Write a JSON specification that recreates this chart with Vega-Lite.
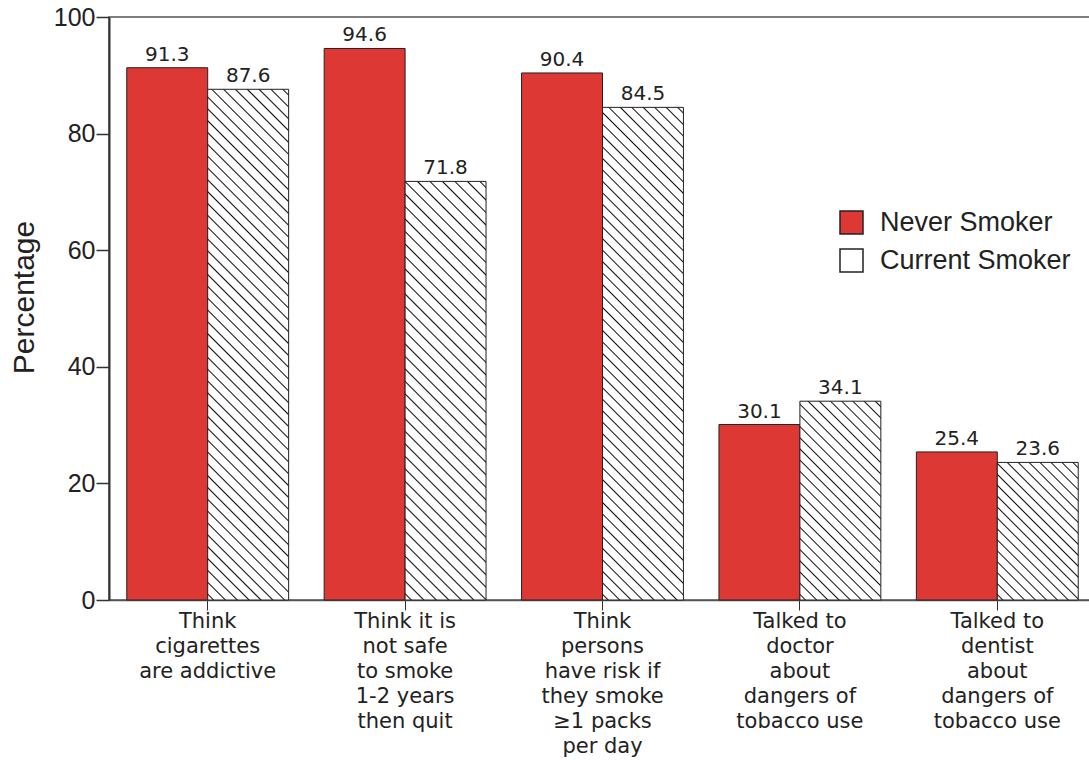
{"$schema":"https://vega.github.io/schema/vega-lite/v6.json","width":987,"height":583,"autosize":"none","padding":{"left":109,"top":17,"right":0,"bottom":160},"background":"white",
"config":{"view":{"stroke":"#555","strokeWidth":1.5},"axis":{"grid":false}},
"data":{"values":[
{"q":"Think|cigarettes|are addictive","g":"Never Smoker","v":91.3},
{"q":"Think|cigarettes|are addictive","g":"Current Smoker","v":87.6},
{"q":"Think it is|not safe|to smoke|1-2 years|then quit","g":"Never Smoker","v":94.6},
{"q":"Think it is|not safe|to smoke|1-2 years|then quit","g":"Current Smoker","v":71.8},
{"q":"Think|persons|have risk if|they smoke|≥1 packs|per day","g":"Never Smoker","v":90.4},
{"q":"Think|persons|have risk if|they smoke|≥1 packs|per day","g":"Current Smoker","v":84.5},
{"q":"Talked to|doctor|about|dangers of|tobacco use","g":"Never Smoker","v":30.1},
{"q":"Talked to|doctor|about|dangers of|tobacco use","g":"Current Smoker","v":34.1},
{"q":"Talked to|dentist|about|dangers of|tobacco use","g":"Never Smoker","v":25.4},
{"q":"Talked to|dentist|about|dangers of|tobacco use","g":"Current Smoker","v":23.6}]},
"encoding":{
"x":{"field":"q","type":"nominal","sort":null,"scale":{"paddingInner":0.18,"paddingOuter":0.09},"axis":{"title":null,"labelAngle":0,"labelExpr":"split(datum.label, '|')","labelFont":"DejaVu Sans","labelFontSize":21,"labelLineHeight":25,"labelColor":"#222","labelPadding":0,"labelLimit":400,"labelBaseline":"top","tickSize":10,"tickColor":"#333","domainColor":"#555","domainWidth":1.5}},
"xOffset":{"field":"g","type":"nominal","sort":["Never Smoker","Current Smoker"]},
"y":{"field":"v","type":"quantitative","scale":{"domain":[0,100]},"axis":{"title":"Percentage","values":[0,20,40,60,80,100],"labelFont":"Liberation Sans","labelFontSize":25,"labelColor":"#222","labelPadding":1,"tickSize":13,"tickColor":"#333","tickWidth":1.5,"domainColor":"#333","domainWidth":2,"titleFont":"Liberation Sans","titleFontSize":30,"titleFontWeight":"normal","titleColor":"#222","titleX":-76,"titleY":280,"titleBaseline":"alphabetic","titleAlign":"center","titleAngle":270}}},
"layer":[
{"mark":{"type":"bar","stroke":"#222","strokeWidth":1},
"encoding":{"fill":{"condition":[
{"test":"datum.g === 'Current Smoker' && datum.v === 87.6","value":{"gradient":"linear","x1":0,"y1":1,"x2":0.1791,"y2":-0.1302,"stops":[
{"offset":0.0075,"color":"#fff"},{"offset":0.01,"color":"#111"},{"offset":0.0125,"color":"#fff"},
{"offset":0.0275,"color":"#fff"},{"offset":0.03,"color":"#111"},{"offset":0.0325,"color":"#fff"},
{"offset":0.0475,"color":"#fff"},{"offset":0.05,"color":"#111"},{"offset":0.0525,"color":"#fff"},
{"offset":0.0675,"color":"#fff"},{"offset":0.07,"color":"#111"},{"offset":0.0725,"color":"#fff"},
{"offset":0.0875,"color":"#fff"},{"offset":0.09,"color":"#111"},{"offset":0.0925,"color":"#fff"},
{"offset":0.1075,"color":"#fff"},{"offset":0.11,"color":"#111"},{"offset":0.1125,"color":"#fff"},
{"offset":0.1275,"color":"#fff"},{"offset":0.13,"color":"#111"},{"offset":0.1325,"color":"#fff"},
{"offset":0.1475,"color":"#fff"},{"offset":0.15,"color":"#111"},{"offset":0.1525,"color":"#fff"},
{"offset":0.1675,"color":"#fff"},{"offset":0.17,"color":"#111"},{"offset":0.1725,"color":"#fff"},
{"offset":0.1875,"color":"#fff"},{"offset":0.19,"color":"#111"},{"offset":0.1925,"color":"#fff"},
{"offset":0.2075,"color":"#fff"},{"offset":0.21,"color":"#111"},{"offset":0.2125,"color":"#fff"},
{"offset":0.2275,"color":"#fff"},{"offset":0.23,"color":"#111"},{"offset":0.2325,"color":"#fff"},
{"offset":0.2475,"color":"#fff"},{"offset":0.25,"color":"#111"},{"offset":0.2525,"color":"#fff"},
{"offset":0.2675,"color":"#fff"},{"offset":0.27,"color":"#111"},{"offset":0.2725,"color":"#fff"},
{"offset":0.2875,"color":"#fff"},{"offset":0.29,"color":"#111"},{"offset":0.2925,"color":"#fff"},
{"offset":0.3075,"color":"#fff"},{"offset":0.31,"color":"#111"},{"offset":0.3125,"color":"#fff"},
{"offset":0.3275,"color":"#fff"},{"offset":0.33,"color":"#111"},{"offset":0.3325,"color":"#fff"},
{"offset":0.3475,"color":"#fff"},{"offset":0.35,"color":"#111"},{"offset":0.3525,"color":"#fff"},
{"offset":0.3675,"color":"#fff"},{"offset":0.37,"color":"#111"},{"offset":0.3725,"color":"#fff"},
{"offset":0.3875,"color":"#fff"},{"offset":0.39,"color":"#111"},{"offset":0.3925,"color":"#fff"},
{"offset":0.4075,"color":"#fff"},{"offset":0.41,"color":"#111"},{"offset":0.4125,"color":"#fff"},
{"offset":0.4275,"color":"#fff"},{"offset":0.43,"color":"#111"},{"offset":0.4325,"color":"#fff"},
{"offset":0.4475,"color":"#fff"},{"offset":0.45,"color":"#111"},{"offset":0.4525,"color":"#fff"},
{"offset":0.4675,"color":"#fff"},{"offset":0.47,"color":"#111"},{"offset":0.4725,"color":"#fff"},
{"offset":0.4875,"color":"#fff"},{"offset":0.49,"color":"#111"},{"offset":0.4925,"color":"#fff"},
{"offset":0.5075,"color":"#fff"},{"offset":0.51,"color":"#111"},{"offset":0.5125,"color":"#fff"},
{"offset":0.5275,"color":"#fff"},{"offset":0.53,"color":"#111"},{"offset":0.5325,"color":"#fff"},
{"offset":0.5475,"color":"#fff"},{"offset":0.55,"color":"#111"},{"offset":0.5525,"color":"#fff"},
{"offset":0.5675,"color":"#fff"},{"offset":0.57,"color":"#111"},{"offset":0.5725,"color":"#fff"},
{"offset":0.5875,"color":"#fff"},{"offset":0.59,"color":"#111"},{"offset":0.5925,"color":"#fff"},
{"offset":0.6075,"color":"#fff"},{"offset":0.61,"color":"#111"},{"offset":0.6125,"color":"#fff"},
{"offset":0.6275,"color":"#fff"},{"offset":0.63,"color":"#111"},{"offset":0.6325,"color":"#fff"},
{"offset":0.6475,"color":"#fff"},{"offset":0.65,"color":"#111"},{"offset":0.6525,"color":"#fff"},
{"offset":0.6675,"color":"#fff"},{"offset":0.67,"color":"#111"},{"offset":0.6725,"color":"#fff"},
{"offset":0.6875,"color":"#fff"},{"offset":0.69,"color":"#111"},{"offset":0.6925,"color":"#fff"},
{"offset":0.7075,"color":"#fff"},{"offset":0.71,"color":"#111"},{"offset":0.7125,"color":"#fff"},
{"offset":0.7275,"color":"#fff"},{"offset":0.73,"color":"#111"},{"offset":0.7325,"color":"#fff"},
{"offset":0.7475,"color":"#fff"},{"offset":0.75,"color":"#111"},{"offset":0.7525,"color":"#fff"},
{"offset":0.7675,"color":"#fff"},{"offset":0.77,"color":"#111"},{"offset":0.7725,"color":"#fff"},
{"offset":0.7875,"color":"#fff"},{"offset":0.79,"color":"#111"},{"offset":0.7925,"color":"#fff"},
{"offset":0.8075,"color":"#fff"},{"offset":0.81,"color":"#111"},{"offset":0.8125,"color":"#fff"},
{"offset":0.8275,"color":"#fff"},{"offset":0.83,"color":"#111"},{"offset":0.8325,"color":"#fff"},
{"offset":0.8475,"color":"#fff"},{"offset":0.85,"color":"#111"},{"offset":0.8525,"color":"#fff"},
{"offset":0.8675,"color":"#fff"},{"offset":0.87,"color":"#111"},{"offset":0.8725,"color":"#fff"},
{"offset":0.8875,"color":"#fff"},{"offset":0.89,"color":"#111"},{"offset":0.8925,"color":"#fff"},
{"offset":0.9075,"color":"#fff"},{"offset":0.91,"color":"#111"},{"offset":0.9125,"color":"#fff"},
{"offset":0.9275,"color":"#fff"},{"offset":0.93,"color":"#111"},{"offset":0.9325,"color":"#fff"},
{"offset":0.9475,"color":"#fff"},{"offset":0.95,"color":"#111"},{"offset":0.9525,"color":"#fff"},
{"offset":0.9675,"color":"#fff"},{"offset":0.97,"color":"#111"},{"offset":0.9725,"color":"#fff"},
{"offset":0.9875,"color":"#fff"},{"offset":0.99,"color":"#111"},{"offset":0.9925,"color":"#fff"}]}},
{"test":"datum.g === 'Current Smoker' && datum.v === 71.8","value":{"gradient":"linear","x1":0,"y1":1,"x2":0.2225,"y2":-0.1505,"stops":[
{"offset":0.0095,"color":"#fff"},{"offset":0.0125,"color":"#111"},{"offset":0.0155,"color":"#fff"},
{"offset":0.0345,"color":"#fff"},{"offset":0.0375,"color":"#111"},{"offset":0.0405,"color":"#fff"},
{"offset":0.0595,"color":"#fff"},{"offset":0.0625,"color":"#111"},{"offset":0.0655,"color":"#fff"},
{"offset":0.0845,"color":"#fff"},{"offset":0.0875,"color":"#111"},{"offset":0.0905,"color":"#fff"},
{"offset":0.1095,"color":"#fff"},{"offset":0.1125,"color":"#111"},{"offset":0.1155,"color":"#fff"},
{"offset":0.1345,"color":"#fff"},{"offset":0.1375,"color":"#111"},{"offset":0.1405,"color":"#fff"},
{"offset":0.1595,"color":"#fff"},{"offset":0.1625,"color":"#111"},{"offset":0.1655,"color":"#fff"},
{"offset":0.1845,"color":"#fff"},{"offset":0.1875,"color":"#111"},{"offset":0.1905,"color":"#fff"},
{"offset":0.2095,"color":"#fff"},{"offset":0.2125,"color":"#111"},{"offset":0.2155,"color":"#fff"},
{"offset":0.2345,"color":"#fff"},{"offset":0.2375,"color":"#111"},{"offset":0.2405,"color":"#fff"},
{"offset":0.2595,"color":"#fff"},{"offset":0.2625,"color":"#111"},{"offset":0.2655,"color":"#fff"},
{"offset":0.2845,"color":"#fff"},{"offset":0.2875,"color":"#111"},{"offset":0.2905,"color":"#fff"},
{"offset":0.3095,"color":"#fff"},{"offset":0.3125,"color":"#111"},{"offset":0.3155,"color":"#fff"},
{"offset":0.3345,"color":"#fff"},{"offset":0.3375,"color":"#111"},{"offset":0.3405,"color":"#fff"},
{"offset":0.3595,"color":"#fff"},{"offset":0.3625,"color":"#111"},{"offset":0.3655,"color":"#fff"},
{"offset":0.3845,"color":"#fff"},{"offset":0.3875,"color":"#111"},{"offset":0.3905,"color":"#fff"},
{"offset":0.4095,"color":"#fff"},{"offset":0.4125,"color":"#111"},{"offset":0.4155,"color":"#fff"},
{"offset":0.4345,"color":"#fff"},{"offset":0.4375,"color":"#111"},{"offset":0.4405,"color":"#fff"},
{"offset":0.4595,"color":"#fff"},{"offset":0.4625,"color":"#111"},{"offset":0.4655,"color":"#fff"},
{"offset":0.4845,"color":"#fff"},{"offset":0.4875,"color":"#111"},{"offset":0.4905,"color":"#fff"},
{"offset":0.5095,"color":"#fff"},{"offset":0.5125,"color":"#111"},{"offset":0.5155,"color":"#fff"},
{"offset":0.5345,"color":"#fff"},{"offset":0.5375,"color":"#111"},{"offset":0.5405,"color":"#fff"},
{"offset":0.5595,"color":"#fff"},{"offset":0.5625,"color":"#111"},{"offset":0.5655,"color":"#fff"},
{"offset":0.5845,"color":"#fff"},{"offset":0.5875,"color":"#111"},{"offset":0.5905,"color":"#fff"},
{"offset":0.6095,"color":"#fff"},{"offset":0.6125,"color":"#111"},{"offset":0.6155,"color":"#fff"},
{"offset":0.6345,"color":"#fff"},{"offset":0.6375,"color":"#111"},{"offset":0.6405,"color":"#fff"},
{"offset":0.6595,"color":"#fff"},{"offset":0.6625,"color":"#111"},{"offset":0.6655,"color":"#fff"},
{"offset":0.6845,"color":"#fff"},{"offset":0.6875,"color":"#111"},{"offset":0.6905,"color":"#fff"},
{"offset":0.7095,"color":"#fff"},{"offset":0.7125,"color":"#111"},{"offset":0.7155,"color":"#fff"},
{"offset":0.7345,"color":"#fff"},{"offset":0.7375,"color":"#111"},{"offset":0.7405,"color":"#fff"},
{"offset":0.7595,"color":"#fff"},{"offset":0.7625,"color":"#111"},{"offset":0.7655,"color":"#fff"},
{"offset":0.7845,"color":"#fff"},{"offset":0.7875,"color":"#111"},{"offset":0.7905,"color":"#fff"},
{"offset":0.8095,"color":"#fff"},{"offset":0.8125,"color":"#111"},{"offset":0.8155,"color":"#fff"},
{"offset":0.8345,"color":"#fff"},{"offset":0.8375,"color":"#111"},{"offset":0.8405,"color":"#fff"},
{"offset":0.8595,"color":"#fff"},{"offset":0.8625,"color":"#111"},{"offset":0.8655,"color":"#fff"},
{"offset":0.8845,"color":"#fff"},{"offset":0.8875,"color":"#111"},{"offset":0.8905,"color":"#fff"},
{"offset":0.9095,"color":"#fff"},{"offset":0.9125,"color":"#111"},{"offset":0.9155,"color":"#fff"},
{"offset":0.9345,"color":"#fff"},{"offset":0.9375,"color":"#111"},{"offset":0.9405,"color":"#fff"},
{"offset":0.9595,"color":"#fff"},{"offset":0.9625,"color":"#111"},{"offset":0.9655,"color":"#fff"},
{"offset":0.9845,"color":"#fff"},{"offset":0.9875,"color":"#111"},{"offset":0.9905,"color":"#fff"}]}},
{"test":"datum.g === 'Current Smoker' && datum.v === 84.5","value":{"gradient":"linear","x1":0,"y1":1,"x2":0.1863,"y2":-0.1336,"stops":[
{"offset":0.0075,"color":"#fff"},{"offset":0.01,"color":"#111"},{"offset":0.0125,"color":"#fff"},
{"offset":0.0275,"color":"#fff"},{"offset":0.03,"color":"#111"},{"offset":0.0325,"color":"#fff"},
{"offset":0.0475,"color":"#fff"},{"offset":0.05,"color":"#111"},{"offset":0.0525,"color":"#fff"},
{"offset":0.0675,"color":"#fff"},{"offset":0.07,"color":"#111"},{"offset":0.0725,"color":"#fff"},
{"offset":0.0875,"color":"#fff"},{"offset":0.09,"color":"#111"},{"offset":0.0925,"color":"#fff"},
{"offset":0.1075,"color":"#fff"},{"offset":0.11,"color":"#111"},{"offset":0.1125,"color":"#fff"},
{"offset":0.1275,"color":"#fff"},{"offset":0.13,"color":"#111"},{"offset":0.1325,"color":"#fff"},
{"offset":0.1475,"color":"#fff"},{"offset":0.15,"color":"#111"},{"offset":0.1525,"color":"#fff"},
{"offset":0.1675,"color":"#fff"},{"offset":0.17,"color":"#111"},{"offset":0.1725,"color":"#fff"},
{"offset":0.1875,"color":"#fff"},{"offset":0.19,"color":"#111"},{"offset":0.1925,"color":"#fff"},
{"offset":0.2075,"color":"#fff"},{"offset":0.21,"color":"#111"},{"offset":0.2125,"color":"#fff"},
{"offset":0.2275,"color":"#fff"},{"offset":0.23,"color":"#111"},{"offset":0.2325,"color":"#fff"},
{"offset":0.2475,"color":"#fff"},{"offset":0.25,"color":"#111"},{"offset":0.2525,"color":"#fff"},
{"offset":0.2675,"color":"#fff"},{"offset":0.27,"color":"#111"},{"offset":0.2725,"color":"#fff"},
{"offset":0.2875,"color":"#fff"},{"offset":0.29,"color":"#111"},{"offset":0.2925,"color":"#fff"},
{"offset":0.3075,"color":"#fff"},{"offset":0.31,"color":"#111"},{"offset":0.3125,"color":"#fff"},
{"offset":0.3275,"color":"#fff"},{"offset":0.33,"color":"#111"},{"offset":0.3325,"color":"#fff"},
{"offset":0.3475,"color":"#fff"},{"offset":0.35,"color":"#111"},{"offset":0.3525,"color":"#fff"},
{"offset":0.3675,"color":"#fff"},{"offset":0.37,"color":"#111"},{"offset":0.3725,"color":"#fff"},
{"offset":0.3875,"color":"#fff"},{"offset":0.39,"color":"#111"},{"offset":0.3925,"color":"#fff"},
{"offset":0.4075,"color":"#fff"},{"offset":0.41,"color":"#111"},{"offset":0.4125,"color":"#fff"},
{"offset":0.4275,"color":"#fff"},{"offset":0.43,"color":"#111"},{"offset":0.4325,"color":"#fff"},
{"offset":0.4475,"color":"#fff"},{"offset":0.45,"color":"#111"},{"offset":0.4525,"color":"#fff"},
{"offset":0.4675,"color":"#fff"},{"offset":0.47,"color":"#111"},{"offset":0.4725,"color":"#fff"},
{"offset":0.4875,"color":"#fff"},{"offset":0.49,"color":"#111"},{"offset":0.4925,"color":"#fff"},
{"offset":0.5075,"color":"#fff"},{"offset":0.51,"color":"#111"},{"offset":0.5125,"color":"#fff"},
{"offset":0.5275,"color":"#fff"},{"offset":0.53,"color":"#111"},{"offset":0.5325,"color":"#fff"},
{"offset":0.5475,"color":"#fff"},{"offset":0.55,"color":"#111"},{"offset":0.5525,"color":"#fff"},
{"offset":0.5675,"color":"#fff"},{"offset":0.57,"color":"#111"},{"offset":0.5725,"color":"#fff"},
{"offset":0.5875,"color":"#fff"},{"offset":0.59,"color":"#111"},{"offset":0.5925,"color":"#fff"},
{"offset":0.6075,"color":"#fff"},{"offset":0.61,"color":"#111"},{"offset":0.6125,"color":"#fff"},
{"offset":0.6275,"color":"#fff"},{"offset":0.63,"color":"#111"},{"offset":0.6325,"color":"#fff"},
{"offset":0.6475,"color":"#fff"},{"offset":0.65,"color":"#111"},{"offset":0.6525,"color":"#fff"},
{"offset":0.6675,"color":"#fff"},{"offset":0.67,"color":"#111"},{"offset":0.6725,"color":"#fff"},
{"offset":0.6875,"color":"#fff"},{"offset":0.69,"color":"#111"},{"offset":0.6925,"color":"#fff"},
{"offset":0.7075,"color":"#fff"},{"offset":0.71,"color":"#111"},{"offset":0.7125,"color":"#fff"},
{"offset":0.7275,"color":"#fff"},{"offset":0.73,"color":"#111"},{"offset":0.7325,"color":"#fff"},
{"offset":0.7475,"color":"#fff"},{"offset":0.75,"color":"#111"},{"offset":0.7525,"color":"#fff"},
{"offset":0.7675,"color":"#fff"},{"offset":0.77,"color":"#111"},{"offset":0.7725,"color":"#fff"},
{"offset":0.7875,"color":"#fff"},{"offset":0.79,"color":"#111"},{"offset":0.7925,"color":"#fff"},
{"offset":0.8075,"color":"#fff"},{"offset":0.81,"color":"#111"},{"offset":0.8125,"color":"#fff"},
{"offset":0.8275,"color":"#fff"},{"offset":0.83,"color":"#111"},{"offset":0.8325,"color":"#fff"},
{"offset":0.8475,"color":"#fff"},{"offset":0.85,"color":"#111"},{"offset":0.8525,"color":"#fff"},
{"offset":0.8675,"color":"#fff"},{"offset":0.87,"color":"#111"},{"offset":0.8725,"color":"#fff"},
{"offset":0.8875,"color":"#fff"},{"offset":0.89,"color":"#111"},{"offset":0.8925,"color":"#fff"},
{"offset":0.9075,"color":"#fff"},{"offset":0.91,"color":"#111"},{"offset":0.9125,"color":"#fff"},
{"offset":0.9275,"color":"#fff"},{"offset":0.93,"color":"#111"},{"offset":0.9325,"color":"#fff"},
{"offset":0.9475,"color":"#fff"},{"offset":0.95,"color":"#111"},{"offset":0.9525,"color":"#fff"},
{"offset":0.9675,"color":"#fff"},{"offset":0.97,"color":"#111"},{"offset":0.9725,"color":"#fff"},
{"offset":0.9875,"color":"#fff"},{"offset":0.99,"color":"#111"},{"offset":0.9925,"color":"#fff"}]}},
{"test":"datum.g === 'Current Smoker' && datum.v === 34.1","value":{"gradient":"linear","x1":0,"y1":1,"x2":0.4915,"y2":-0.2071,"stops":[
{"offset":0.015,"color":"#fff"},{"offset":0.02,"color":"#111"},{"offset":0.025,"color":"#fff"},
{"offset":0.055,"color":"#fff"},{"offset":0.06,"color":"#111"},{"offset":0.065,"color":"#fff"},
{"offset":0.095,"color":"#fff"},{"offset":0.1,"color":"#111"},{"offset":0.105,"color":"#fff"},
{"offset":0.135,"color":"#fff"},{"offset":0.14,"color":"#111"},{"offset":0.145,"color":"#fff"},
{"offset":0.175,"color":"#fff"},{"offset":0.18,"color":"#111"},{"offset":0.185,"color":"#fff"},
{"offset":0.215,"color":"#fff"},{"offset":0.22,"color":"#111"},{"offset":0.225,"color":"#fff"},
{"offset":0.255,"color":"#fff"},{"offset":0.26,"color":"#111"},{"offset":0.265,"color":"#fff"},
{"offset":0.295,"color":"#fff"},{"offset":0.3,"color":"#111"},{"offset":0.305,"color":"#fff"},
{"offset":0.335,"color":"#fff"},{"offset":0.34,"color":"#111"},{"offset":0.345,"color":"#fff"},
{"offset":0.375,"color":"#fff"},{"offset":0.38,"color":"#111"},{"offset":0.385,"color":"#fff"},
{"offset":0.415,"color":"#fff"},{"offset":0.42,"color":"#111"},{"offset":0.425,"color":"#fff"},
{"offset":0.455,"color":"#fff"},{"offset":0.46,"color":"#111"},{"offset":0.465,"color":"#fff"},
{"offset":0.495,"color":"#fff"},{"offset":0.5,"color":"#111"},{"offset":0.505,"color":"#fff"},
{"offset":0.535,"color":"#fff"},{"offset":0.54,"color":"#111"},{"offset":0.545,"color":"#fff"},
{"offset":0.575,"color":"#fff"},{"offset":0.58,"color":"#111"},{"offset":0.585,"color":"#fff"},
{"offset":0.615,"color":"#fff"},{"offset":0.62,"color":"#111"},{"offset":0.625,"color":"#fff"},
{"offset":0.655,"color":"#fff"},{"offset":0.66,"color":"#111"},{"offset":0.665,"color":"#fff"},
{"offset":0.695,"color":"#fff"},{"offset":0.7,"color":"#111"},{"offset":0.705,"color":"#fff"},
{"offset":0.735,"color":"#fff"},{"offset":0.74,"color":"#111"},{"offset":0.745,"color":"#fff"},
{"offset":0.775,"color":"#fff"},{"offset":0.78,"color":"#111"},{"offset":0.785,"color":"#fff"},
{"offset":0.815,"color":"#fff"},{"offset":0.82,"color":"#111"},{"offset":0.825,"color":"#fff"},
{"offset":0.855,"color":"#fff"},{"offset":0.86,"color":"#111"},{"offset":0.865,"color":"#fff"},
{"offset":0.895,"color":"#fff"},{"offset":0.9,"color":"#111"},{"offset":0.905,"color":"#fff"},
{"offset":0.935,"color":"#fff"},{"offset":0.94,"color":"#111"},{"offset":0.945,"color":"#fff"},
{"offset":0.975,"color":"#fff"},{"offset":0.98,"color":"#111"},{"offset":0.985,"color":"#fff"}]}},
{"test":"datum.g === 'Current Smoker' && datum.v === 23.6","value":{"gradient":"linear","x1":0,"y1":1,"x2":0.6941,"y2":-0.18,"stops":[
{"offset":0.0185,"color":"#fff"},{"offset":0.025,"color":"#111"},{"offset":0.0315,"color":"#fff"},
{"offset":0.0685,"color":"#fff"},{"offset":0.075,"color":"#111"},{"offset":0.0815,"color":"#fff"},
{"offset":0.1185,"color":"#fff"},{"offset":0.125,"color":"#111"},{"offset":0.1315,"color":"#fff"},
{"offset":0.1685,"color":"#fff"},{"offset":0.175,"color":"#111"},{"offset":0.1815,"color":"#fff"},
{"offset":0.2185,"color":"#fff"},{"offset":0.225,"color":"#111"},{"offset":0.2315,"color":"#fff"},
{"offset":0.2685,"color":"#fff"},{"offset":0.275,"color":"#111"},{"offset":0.2815,"color":"#fff"},
{"offset":0.3185,"color":"#fff"},{"offset":0.325,"color":"#111"},{"offset":0.3315,"color":"#fff"},
{"offset":0.3685,"color":"#fff"},{"offset":0.375,"color":"#111"},{"offset":0.3815,"color":"#fff"},
{"offset":0.4185,"color":"#fff"},{"offset":0.425,"color":"#111"},{"offset":0.4315,"color":"#fff"},
{"offset":0.4685,"color":"#fff"},{"offset":0.475,"color":"#111"},{"offset":0.4815,"color":"#fff"},
{"offset":0.5185,"color":"#fff"},{"offset":0.525,"color":"#111"},{"offset":0.5315,"color":"#fff"},
{"offset":0.5685,"color":"#fff"},{"offset":0.575,"color":"#111"},{"offset":0.5815,"color":"#fff"},
{"offset":0.6185,"color":"#fff"},{"offset":0.625,"color":"#111"},{"offset":0.6315,"color":"#fff"},
{"offset":0.6685,"color":"#fff"},{"offset":0.675,"color":"#111"},{"offset":0.6815,"color":"#fff"},
{"offset":0.7185,"color":"#fff"},{"offset":0.725,"color":"#111"},{"offset":0.7315,"color":"#fff"},
{"offset":0.7685,"color":"#fff"},{"offset":0.775,"color":"#111"},{"offset":0.7815,"color":"#fff"},
{"offset":0.8185,"color":"#fff"},{"offset":0.825,"color":"#111"},{"offset":0.8315,"color":"#fff"},
{"offset":0.8685,"color":"#fff"},{"offset":0.875,"color":"#111"},{"offset":0.8815,"color":"#fff"},
{"offset":0.9185,"color":"#fff"},{"offset":0.925,"color":"#111"},{"offset":0.9315,"color":"#fff"},
{"offset":0.9685,"color":"#fff"},{"offset":0.975,"color":"#111"},{"offset":0.9815,"color":"#fff"}]}}],
"field":"g","type":"nominal","scale":{"domain":["Never Smoker","Current Smoker"],"range":["#dd3833","#ffffff"]},
"legend":{"title":null,"orient":"none","legendX":729,"legendY":192,"padding":0,"symbolType":"square","symbolSize":529,"symbolStrokeColor":"#222","symbolStrokeWidth":1.5,"labelFont":"Liberation Sans","labelFontSize":27,"labelColor":"#222","labelOffset":15,"rowPadding":9,"labelLimit":400,
"encode":{"symbols":{"update":{"stroke":{"value":"#222"},"strokeWidth":{"value":1.5},"opacity":{"value":1},"fill":{"condition":{"test":"datum.value === 'Current Smoker'","value":{"gradient":"linear","x1":0,"y1":1,"x2":1,"y2":0,"stops":[
{"offset":0.095,"color":"#fff"},{"offset":0.125,"color":"#111"},{"offset":0.155,"color":"#fff"},
{"offset":0.345,"color":"#fff"},{"offset":0.375,"color":"#111"},{"offset":0.405,"color":"#fff"},
{"offset":0.595,"color":"#fff"},{"offset":0.625,"color":"#111"},{"offset":0.655,"color":"#fff"},
{"offset":0.845,"color":"#fff"},{"offset":0.875,"color":"#111"},{"offset":0.905,"color":"#fff"}]}},"value":"#dd3833"}}}}}}}},
{"mark":{"type":"text","font":"DejaVu Sans","fontSize":20,"color":"#222","baseline":"alphabetic","dy":-7},
"encoding":{"text":{"field":"v","type":"quantitative","format":".1f"}}}
]}
